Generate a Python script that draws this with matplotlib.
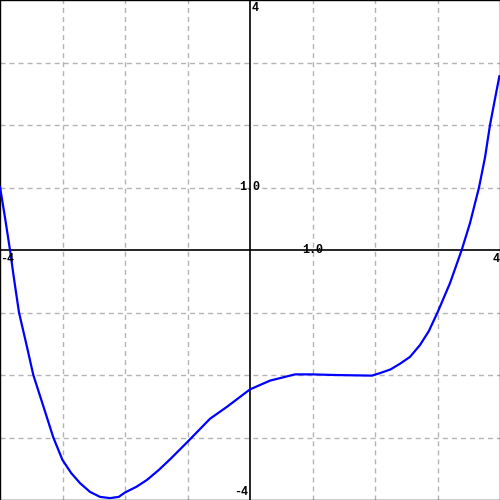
import matplotlib
matplotlib.use("Agg")
import matplotlib.pyplot as plt

# curve points
xs = [-4.0, -3.92, -3.84, -3.776, -3.696, -3.58, -3.467, -3.30, -3.147, -3.0,
      -2.86, -2.72, -2.56, -2.4, -2.24, -2.1, -2.0, -1.82, -1.65, -1.46, -1.28,
      -1.0, -0.64, -0.37, 0.0, 0.32, 0.72, 1.0, 1.35, 1.95, 2.08, 2.25, 2.4,
      2.56, 2.72, 2.86, 3.0, 3.2, 3.387, 3.52, 3.664, 3.76, 3.84, 3.92, 3.99]
ys = [1.01, 0.52, 0.0, -0.46, -1.0, -1.5, -2.0, -2.52, -3.0, -3.36,
      -3.57, -3.73, -3.87, -3.95, -3.97, -3.95, -3.88, -3.79, -3.68, -3.52, -3.35,
      -3.07, -2.70, -2.51, -2.23, -2.09, -1.99, -1.99, -2.0, -2.01, -1.97, -1.91, -1.82,
      -1.71, -1.52, -1.30, -1.0, -0.53, 0.0, 0.43, 1.0, 1.48, 2.0, 2.42, 2.78]

grid_ticks = [-3, -2, -1, 1, 2, 3]

fig = plt.figure(figsize=(5, 5), dpi=100)
ax = fig.add_axes([0, 0, 1, 1])
ax.set_xlim(-4, 4)
ax.set_ylim(-4, 4)
ax.set_xticks([])
ax.set_yticks([])
for s in ax.spines.values():
    s.set_linewidth(1.0)
    s.set_color("black")

for t in grid_ticks:
    ax.axvline(t, color="#b4b4b4", lw=1.0, ls=(0, (3.6, 2.9)), zorder=1)
    ax.axhline(t, color="#b4b4b4", lw=1.0, ls=(0, (3.6, 2.9)), zorder=1)
ax.axhline(0, color="black", lw=1.2, zorder=2)
ax.axvline(0, color="black", lw=1.2, zorder=2)

ax.plot(xs, ys, color="#0000ff", lw=1.6, zorder=3, solid_joinstyle="round")

fp = dict(family="Liberation Mono", fontweight="bold", fontsize=8.5, color="black", zorder=4)
ax.text(0.03, 3.97, "4", ha="left", va="top", **fp)
ax.text(-0.03, -3.97, "-4", ha="right", va="bottom", **fp)
ax.text(-3.99, -0.04, "-4", ha="left", va="top", **fp)
ax.text(3.99, -0.04, "4", ha="right", va="top", **fp)
ax.text(0.0, 1.0, "1.0", ha="center", va="center", **fp)
ax.text(1.0, 0.0, "1.0", ha="center", va="center", **fp)

fig.savefig("out.png", dpi=100)
